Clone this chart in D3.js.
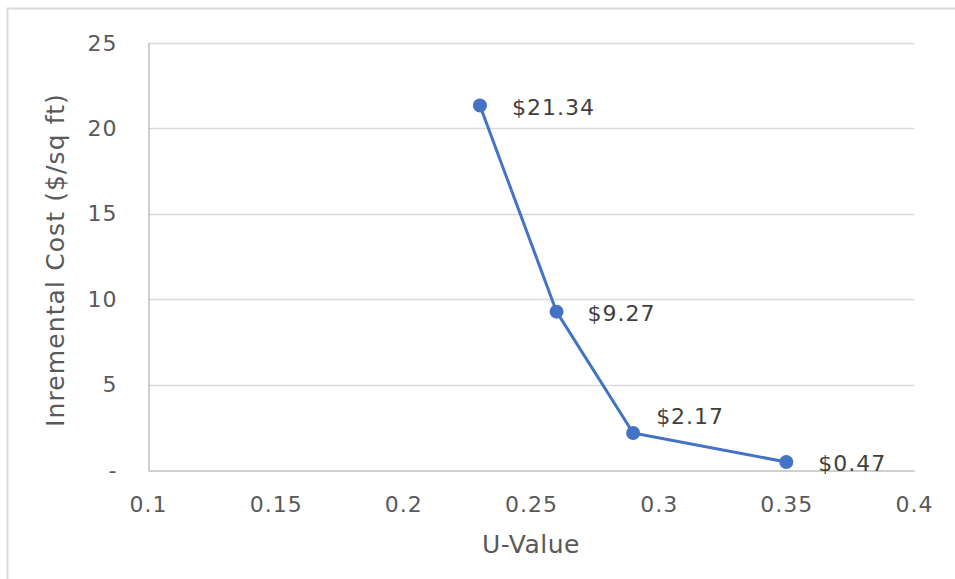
<!DOCTYPE html>
<html><head><meta charset="utf-8">
<script src="https://cdn.jsdelivr.net/npm/d3@7"></script>
<style>body{margin:0;background:#fff}svg{display:block}svg text{font-family:'DejaVu Sans',Verdana,sans-serif !important}</style>
</head><body><svg id="c" width="955" height="579"></svg>
<script>
const uValues = [0.23, 0.26, 0.29, 0.35];
const costs = [21.34, 9.27, 2.17, 0.47];
const labels = ["$21.34", "$9.27", "$2.17", "$0.47"];
const xTicks = [0.1, 0.15, 0.2, 0.25, 0.3, 0.35, 0.4];
const yTicks = [0, 5, 10, 15, 20, 25];
const yTickLabels = ["-", "5", "10", "15", "20", "25"];

const svg = d3.select("#c");
svg.append("rect").attr("x",7.5).attr("y",8.5).attr("width",960).attr("height",600)
  .attr("fill","#fff").attr("stroke","#d9d9d9").attr("stroke-width",2);

const x = d3.scaleLinear().domain([0.1,0.4]).range([148,914]);
const y = d3.scaleLinear().domain([0,25]).range([470,43]);

// gridlines
svg.append("g").selectAll("line").data(yTicks.slice(1)).join("line")
  .attr("x1",148).attr("x2",914).attr("y1",d=>Math.round(y(d))+0.5).attr("y2",d=>Math.round(y(d))+0.5)
  .attr("stroke","#d9d9d9").attr("stroke-width",1.3);

// axes
const yAxis = svg.append("g").attr("transform","translate(148.5,0)")
  .call(d3.axisLeft(y).tickValues(yTicks).tickSize(0).tickPadding(31).tickFormat((d,i)=>yTickLabels[i]))
  .attr("font-size", 22);
yAxis.select(".domain").attr("stroke","#bfbfbf").attr("stroke-width",1.5);
yAxis.selectAll("text").attr("fill","#595959").attr("letter-spacing",1);

const xAxis = svg.append("g").attr("transform","translate(0,470.5)")
  .call(d3.axisBottom(x).tickValues(xTicks).tickSize(0).tickPadding(26).tickFormat(d3.format("")))
  .attr("font-size", 22);
xAxis.select(".domain").attr("stroke","#bfbfbf").attr("stroke-width",1.5);
xAxis.selectAll("text").attr("fill","#595959").attr("letter-spacing",1);

// titles
svg.append("text").attr("x",531).attr("y",544).attr("dy","0.36em").attr("text-anchor","middle")
  .attr("fill","#595959").attr("font-size",25).attr("letter-spacing",0.5).text("U-Value");
svg.append("text").attr("transform","translate(54.5,260) rotate(-90)").attr("dy","0.36em").attr("text-anchor","middle")
  .attr("fill","#595959").attr("font-size",25).attr("letter-spacing",1.1).text("Inremental Cost ($/sq ft)");

// line
const data = uValues.map((u,i)=>({u, c:costs[i], l:labels[i]}));
svg.append("path").datum(data).attr("fill","none").attr("stroke","#4472C4").attr("stroke-width",3)
  .attr("stroke-linejoin","round")
  .attr("d", d3.line().x(d=>x(d.u)).y(d=>y(d.c)));
svg.append("g").selectAll("circle").data(data).join("circle")
  .attr("cx",d=>x(d.u)).attr("cy",d=>y(d.c)).attr("r",7).attr("fill","#4472C4");

// labels
const offs = [[32,1.5],[31,1.5],[23,-17],[32,1.5]];
svg.append("g").selectAll("text").data(data).join("text")
  .attr("x",(d,i)=>x(d.u)+offs[i][0]).attr("y",(d,i)=>y(d.c)+offs[i][1]).attr("dy","0.36em")
  .attr("fill","#404040").attr("font-size",22).attr("letter-spacing",1).text(d=>d.l);
</script></body></html>
